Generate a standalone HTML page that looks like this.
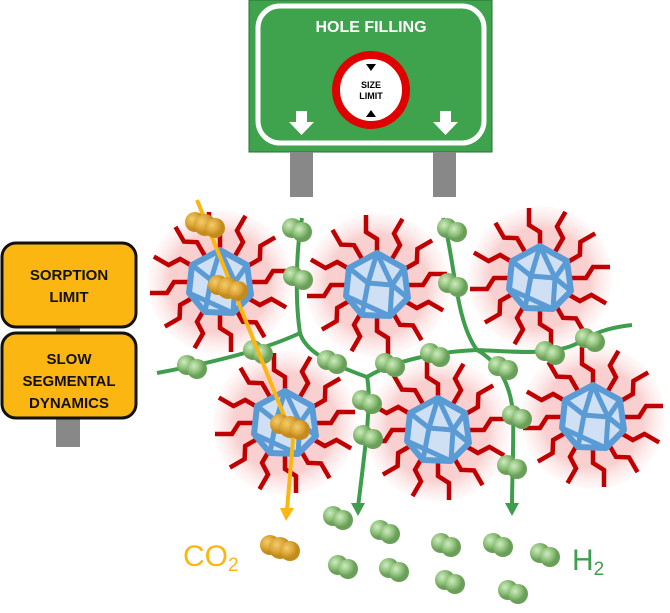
<!DOCTYPE html>
<html><head><meta charset="utf-8"><style>
html,body{margin:0;padding:0;background:#fff;}
svg{display:block;font-family:"Liberation Sans",sans-serif;}
</style></head><body>
<svg width="670" height="613" viewBox="0 0 670 613" xmlns="http://www.w3.org/2000/svg">
<defs>
<radialGradient id="glow"><stop offset="0" stop-color="#f8caca"/><stop offset="0.7" stop-color="#f9d0d0"/><stop offset="1" stop-color="#fde6e6" stop-opacity="0.2"/></radialGradient>
<radialGradient id="gb" cx="0.35" cy="0.35"><stop offset="0" stop-color="#cfeac0"/><stop offset="0.6" stop-color="#92c47e"/><stop offset="1" stop-color="#6a9f5a"/></radialGradient>
<radialGradient id="ob" cx="0.35" cy="0.35"><stop offset="0" stop-color="#f3cd6a"/><stop offset="0.6" stop-color="#dda83a"/><stop offset="1" stop-color="#c48a1c"/></radialGradient>
<g id="arm"><polyline points="0,-30 0,-46 -11,-53 -11,-70" fill="none" stroke="#c00000" stroke-width="4.5" stroke-linejoin="miter"/></g>
<g id="cl">
<circle r="72" fill="url(#glow)"/>
<use href="#arm" transform="rotate(0)"/><use href="#arm" transform="rotate(30)"/><use href="#arm" transform="rotate(60)"/><use href="#arm" transform="rotate(90)"/><use href="#arm" transform="rotate(120)"/><use href="#arm" transform="rotate(150)"/><use href="#arm" transform="rotate(180)"/><use href="#arm" transform="rotate(210)"/><use href="#arm" transform="rotate(240)"/><use href="#arm" transform="rotate(270)"/><use href="#arm" transform="rotate(300)"/><use href="#arm" transform="rotate(330)"/>
<polygon points="0,-32 27,-17 31,13 13,31 -15,30 -31,11 -28,-17" fill="#cfe0f5" stroke="#5b9bd5" stroke-width="6" stroke-linejoin="round"/>
<g stroke="#5b9bd5" stroke-width="5" fill="none"><line x1="0" y1="-32" x2="-9" y2="-2"/><line x1="0" y1="-32" x2="15" y2="0"/><line x1="-28" y1="-17" x2="-9" y2="-2"/><line x1="-9" y1="-2" x2="15" y2="0"/><line x1="15" y1="0" x2="31" y2="13"/><line x1="15" y1="0" x2="13" y2="31"/><line x1="-9" y1="-2" x2="-15" y2="30"/><line x1="27" y1="-17" x2="15" y2="0"/><line x1="-31" y1="11" x2="13" y2="31"/></g>
</g>
<g id="gbd"><circle cx="-5" cy="-2" r="10" fill="url(#gb)"/><circle cx="5" cy="2" r="10" fill="url(#gb)"/></g>
<g id="obd"><circle cx="-10" cy="-3" r="10" fill="url(#ob)"/><circle cx="0" cy="0" r="11" fill="url(#ob)"/><circle cx="10" cy="3" r="10" fill="url(#ob)"/></g>
</defs>

<rect x="249" y="0" width="243" height="152" fill="#3fa34d" stroke="#2a6e33" stroke-width="1"/>
<rect x="258" y="6" width="226" height="137" rx="22" fill="none" stroke="#fff" stroke-width="5"/>
<text x="371" y="32" text-anchor="middle" fill="#fff" font-size="16" font-weight="bold">HOLE FILLING</text>
<circle cx="371" cy="90" r="35" fill="#fff" stroke="#e00000" stroke-width="8"/>
<polygon points="366,64 376,64 371,71" fill="#000"/><polygon points="366,117 376,117 371,110" fill="#000"/>
<text x="371" y="88" text-anchor="middle" font-size="9" font-weight="bold">SIZE</text>
<text x="371" y="99" text-anchor="middle" font-size="9" font-weight="bold">LIMIT</text>
<polygon points="296,111 307,111 307,122 314,122 301.5,135 289,122 296,122" fill="#fff"/>
<polygon points="440,111 451,111 451,122 458,122 445.5,135 433,122 440,122" fill="#fff"/>
<rect x="290" y="152" width="23" height="45" fill="#888"/><rect x="433" y="152" width="23" height="45" fill="#888"/>

<rect x="56" y="320" width="24" height="127" fill="#888"/>
<rect x="2" y="243" width="134" height="84" rx="14" fill="#fbb612" stroke="#111" stroke-width="3"/>
<rect x="2" y="333" width="134" height="85" rx="14" fill="#fbb612" stroke="#111" stroke-width="3"/>
<g font-size="15" font-weight="bold" text-anchor="middle" fill="#111">
<text x="69" y="280">SORPTION</text><text x="69" y="302">LIMIT</text>
<text x="69" y="364">SLOW</text><text x="69" y="386">SEGMENTAL</text><text x="69" y="408">DYNAMICS</text></g>

<use href="#cl" transform="translate(220,282)"/>
<use href="#cl" transform="translate(377,285)"/>
<use href="#cl" transform="translate(540,278)"/>
<use href="#cl" transform="translate(285,423)"/>
<use href="#cl" transform="translate(438,430)"/>
<use href="#cl" transform="translate(593,417)"/>

<g fill="none" stroke="#3f9e4d" stroke-width="4">
<path d="M157,373 C200,365 260,352 300,333"/>
<path d="M302,218 C296,250 295,300 300,333 C305,350 325,362 367,377 C372,400 365,450 358,507"/>
<path d="M367,377 C390,363 430,352 477,350 C520,352 560,356 583,340 C600,330 615,327 632,325"/>
<path d="M443,218 C455,260 455,320 477,350 C495,360 510,380 513,413 C514,440 512,480 512,505"/>
</g>
<polygon points="351,503 365,503 358,516" fill="#3f9e4d"/>
<polygon points="505,503 519,503 512,516" fill="#3f9e4d"/>

<use href="#gbd" transform="translate(297,230)"/><use href="#gbd" transform="translate(298,278)"/>
<use href="#gbd" transform="translate(258,352)"/><use href="#gbd" transform="translate(192,367)"/>
<use href="#gbd" transform="translate(332,362)"/><use href="#gbd" transform="translate(390,365)"/>
<use href="#gbd" transform="translate(435,355)"/><use href="#gbd" transform="translate(367,402)"/>
<use href="#gbd" transform="translate(368,437)"/><use href="#gbd" transform="translate(452,230)"/>
<use href="#gbd" transform="translate(453,285)"/><use href="#gbd" transform="translate(503,368)"/>
<use href="#gbd" transform="translate(550,353)"/><use href="#gbd" transform="translate(590,340)"/>
<use href="#gbd" transform="translate(517,417)"/><use href="#gbd" transform="translate(512,467)"/>
<use href="#gbd" transform="translate(338,518)"/><use href="#gbd" transform="translate(385,532)"/>
<use href="#gbd" transform="translate(446,545)"/><use href="#gbd" transform="translate(498,545)"/>
<use href="#gbd" transform="translate(545,555)"/><use href="#gbd" transform="translate(343,567)"/>
<use href="#gbd" transform="translate(394,570)"/><use href="#gbd" transform="translate(450,582)"/>
<use href="#gbd" transform="translate(513,592)"/>

<polyline points="197,200 283,413 293,440 287,510" fill="none" stroke="#fbb612" stroke-width="4"/>
<polygon points="280,508 294,508 286,521" fill="#fbb612"/>
<use href="#obd" transform="translate(205,225)"/>
<use href="#obd" transform="translate(228,288)"/>
<use href="#obd" transform="translate(290,427)"/>
<use href="#obd" transform="translate(280,548)"/>

<text x="183" y="566" fill="#fbb612" font-size="30">CO<tspan font-size="19" dy="5">2</tspan></text>
<text x="572" y="570" fill="#3f9e4d" font-size="30">H<tspan font-size="19" dy="5">2</tspan></text>
</svg>
</body></html>
